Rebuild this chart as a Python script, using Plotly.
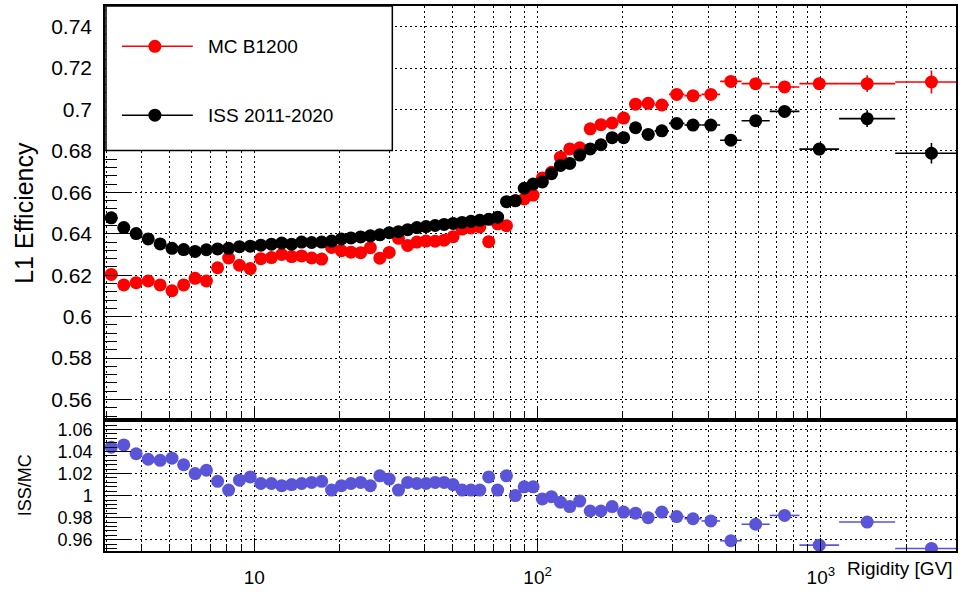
import numpy as np
import plotly.graph_objects as go

# ---- rigidity binning [GV] ----
bin_edges = [2.97, 3.29, 3.64, 4.02, 4.43, 4.88, 5.37, 5.90, 6.47, 7.09, 7.76, 8.48,
             9.26, 10.1, 11.0, 12.0, 13.0, 14.1, 15.3, 16.6, 18.0, 19.5, 21.1, 22.8,
             24.7, 26.7, 28.8, 31.1, 33.5, 36.1, 38.9, 41.9, 45.1, 48.5, 52.2, 56.1,
             60.3, 64.8, 69.7, 74.9, 80.5, 86.5, 93.0, 100, 108, 116, 125, 135, 147,
             160, 175, 192, 211, 233, 259, 291, 330, 379, 441, 525, 660, 840, 1160,
             1830, 3300]

# ---- L1 efficiency, MC B1200 ----
mc_eff = [0.6204, 0.6153, 0.6164, 0.6172, 0.6153, 0.6125, 0.6153, 0.6185, 0.6172, 0.6236,
          0.6283, 0.6248, 0.6232, 0.6280, 0.6285, 0.6300, 0.6290, 0.6293, 0.6283, 0.6278,
          0.6334, 0.6318, 0.6311, 0.6309, 0.6333, 0.6282, 0.6310, 0.6378, 0.6344, 0.6360,
          0.6365, 0.6364, 0.6369, 0.6386, 0.6423, 0.6428, 0.6433, 0.6362, 0.6448, 0.6439,
          0.6560, 0.6568, 0.6587, 0.6670, 0.6697, 0.6770, 0.6810, 0.6815, 0.6907, 0.6927,
          0.6935, 0.6959, 0.7026, 0.7030, 0.7022, 0.7073, 0.7067, 0.7073, 0.7136, 0.7125,
          0.7109, 0.7125, 0.7125, 0.7133]
mc_err = [0.0004, 0.0004, 0.0004, 0.0004, 0.0004, 0.0004, 0.0004, 0.0004, 0.0004, 0.0004,
          0.0004, 0.0004, 0.0004, 0.0004, 0.0004, 0.0004, 0.0004, 0.0004, 0.0004, 0.0004,
          0.0004, 0.0004, 0.0004, 0.0004, 0.0004, 0.0004, 0.0004, 0.0004, 0.0004, 0.0004,
          0.0005, 0.0005, 0.0005, 0.0005, 0.0005, 0.0005, 0.0005, 0.0005, 0.0005, 0.0005,
          0.0006, 0.0006, 0.0006, 0.0006, 0.0007, 0.0007, 0.0007, 0.0008, 0.0008, 0.0009,
          0.0009, 0.0010, 0.0010, 0.0011, 0.0012, 0.0013, 0.0014, 0.0015, 0.0017, 0.0020,
          0.0025, 0.0030, 0.0040, 0.0055]

# ---- L1 efficiency, ISS 2011-2020 ----
iss_eff = [0.6477, 0.6430, 0.6401, 0.6375, 0.6351, 0.6330, 0.6324, 0.6315, 0.6323, 0.6327,
           0.6330, 0.6338, 0.6340, 0.6345, 0.6350, 0.6355, 0.6350, 0.6360, 0.6358, 0.6360,
           0.6365, 0.6375, 0.6380, 0.6385, 0.6390, 0.6395, 0.6405, 0.6410, 0.6420, 0.6430,
           0.6435, 0.6440, 0.6445, 0.6450, 0.6455, 0.6460, 0.6465, 0.6470, 0.6480, 0.6555,
           0.6560, 0.6620, 0.6640, 0.6650, 0.6690, 0.6730, 0.6740, 0.6780, 0.6810, 0.6830,
           0.6864, 0.6864, 0.6912, 0.6880, 0.6897, 0.6933, 0.6925, 0.6925, 0.6852, 0.6946,
           0.6991, 0.6809, 0.6956, 0.6789]
iss_err = [0.0004, 0.0004, 0.0004, 0.0004, 0.0004, 0.0004, 0.0004, 0.0004, 0.0004, 0.0004,
           0.0004, 0.0004, 0.0004, 0.0004, 0.0004, 0.0004, 0.0004, 0.0004, 0.0004, 0.0004,
           0.0004, 0.0004, 0.0004, 0.0004, 0.0004, 0.0004, 0.0004, 0.0004, 0.0004, 0.0004,
           0.0005, 0.0005, 0.0005, 0.0005, 0.0005, 0.0005, 0.0005, 0.0005, 0.0005, 0.0005,
           0.0006, 0.0006, 0.0006, 0.0006, 0.0007, 0.0007, 0.0007, 0.0008, 0.0008, 0.0009,
           0.0009, 0.0010, 0.0010, 0.0011, 0.0012, 0.0013, 0.0014, 0.0015, 0.0017, 0.0020,
           0.0025, 0.0030, 0.0040, 0.0050]

# ---- ISS / MC ratio ----
ratio = [1.044, 1.046, 1.038, 1.033, 1.032, 1.034, 1.028, 1.020, 1.023, 1.013,
         1.005, 1.014, 1.017, 1.011, 1.011, 1.009, 1.010, 1.011, 1.012, 1.013,
         1.005, 1.009, 1.011, 1.012, 1.009, 1.018, 1.015, 1.005, 1.012, 1.011,
         1.011, 1.012, 1.012, 1.010, 1.005, 1.005, 1.005, 1.017, 1.005, 1.018,
         1.000, 1.008, 1.008, 0.997, 0.999, 0.994, 0.990, 0.995, 0.986, 0.986,
         0.990, 0.985, 0.984, 0.980, 0.985, 0.981, 0.979, 0.977, 0.959, 0.974,
         0.982, 0.955, 0.976, 0.952]

# ---- axis definitions ----
x_range = [2.97, 3000]
eff_range = [0.55, 0.75]
ratio_range = [0.9497, 1.0685]
eff_ticks = [0.56, 0.58, 0.60, 0.62, 0.64, 0.66, 0.68, 0.70, 0.72, 0.74]
eff_ticktext = ["0.56", "0.58", "0.6", "0.62", "0.64", "0.66", "0.68", "0.7", "0.72", "0.74"]
ratio_ticks = [0.96, 0.98, 1.00, 1.02, 1.04, 1.06]
ratio_ticktext = ["0.96", "0.98", "1", "1.02", "1.04", "1.06"]
x_major = [10, 100, 1000]
x_major_text = ["10", "10<sup>2</sup>", "10<sup>3</sup>"]

legend_labels = ["MC B1200", "ISS 2011-2020"]
legend_colors = ["#ff0000", "#000000"]

RED = "#ff0000"
BLACK = "#000000"
BLUE = "#5954d8"
FONT = "Liberation Sans, Arial, Helvetica, sans-serif"

edges = np.array(bin_edges)
lo, hi = edges[:-1], edges[1:]
centers = np.sqrt(lo * hi)
err_plus = hi - centers
err_minus = centers - lo

# minor x ticks: 2..9 times each decade inside the range
x_minor = [k * d for d in (1, 10, 100, 1000) for k in range(2, 10)
           if x_range[0] < k * d <= x_range[1] and k * d not in x_major]

# figure geometry (pixels)
W, H = 962, 592
ML, MR, MT, MB = 105, 4, 6, 32
split_px = 427
PW, PH = W - ML - MR, H - MT - MB
split = (H - MB - split_px) / PH


def px(xp):
    return (xp - ML) / PW


def py(yp):
    return (H - MB - yp) / PH


def ebar_x():
    return dict(type="data", symmetric=False, array=err_plus, arrayminus=err_minus,
                thickness=1.6, width=0)


fig = go.Figure()

fig.add_trace(go.Scatter(
    x=centers, y=mc_eff, mode="markers", name=legend_labels[0],
    marker=dict(color=RED, size=13, symbol="circle"),
    error_x=dict(ebar_x(), color=RED),
    error_y=dict(type="data", array=mc_err, color=RED, thickness=1.6, width=0),
    xaxis="x", yaxis="y", showlegend=False))

fig.add_trace(go.Scatter(
    x=centers, y=iss_eff, mode="markers", name=legend_labels[1],
    marker=dict(color=BLACK, size=13, symbol="circle"),
    error_x=dict(ebar_x(), color=BLACK),
    error_y=dict(type="data", array=iss_err, color=BLACK, thickness=1.6, width=0),
    xaxis="x", yaxis="y", showlegend=False))

fig.add_trace(go.Scatter(
    x=centers, y=ratio, mode="markers", name="ISS/MC",
    marker=dict(color=BLUE, size=13, symbol="circle"),
    error_x=dict(ebar_x(), color=BLUE),
    xaxis="x2", yaxis="y2", showlegend=False))

GRID_DASH = "2px,3px"
grid = dict(showgrid=True, gridcolor=BLACK, gridwidth=1.3, griddash=GRID_DASH)
frame = dict(showline=True, linecolor=BLACK, linewidth=1.5, mirror=True, zeroline=False)

xcommon = dict(type="log", range=[np.log10(x_range[0]), np.log10(x_range[1])],
               tickmode="array", tickvals=x_major, ticks="inside", ticklen=13,
               tickwidth=1.2, tickcolor=BLACK,
               minor=dict(tickmode="array", tickvals=x_minor, ticks="inside", ticklen=7,
                          tickwidth=1.2, tickcolor=BLACK, showgrid=True, gridcolor=BLACK,
                          gridwidth=1.3, griddash=GRID_DASH),
               **grid, **frame)

ycommon = dict(tickmode="array", ticks="inside", ticklen=26, tickwidth=1.2, tickcolor=BLACK,
               ticklabelstandoff=7, **grid, **frame)

fig.update_layout(
    width=W, height=H,
    margin=dict(l=ML, r=MR, t=MT, b=MB, pad=0),
    paper_bgcolor="white", plot_bgcolor="white",
    font=dict(family=FONT, color=BLACK),
    showlegend=False,
    xaxis=dict(xcommon, anchor="y", domain=[0, 1], showticklabels=False),
    yaxis=dict(ycommon, anchor="x", domain=[split, 1], range=eff_range,
               tickvals=eff_ticks, ticktext=eff_ticktext,
               tickfont=dict(size=21, color=BLACK, family=FONT),
               minor=dict(tick0=0.56, dtick=0.004, ticks="inside", ticklen=12,
                          tickwidth=1.2, tickcolor=BLACK, showgrid=False)),
    xaxis2=dict(xcommon, anchor="y2", domain=[0, 1], ticktext=x_major_text,
                tickfont=dict(size=19, color=BLACK, family=FONT), ticklabelstandoff=8),
    yaxis2=dict(ycommon, anchor="x2", domain=[0, split], range=ratio_range,
                tickvals=ratio_ticks, ticktext=ratio_ticktext,
                tickfont=dict(size=18, color=BLACK, family=FONT),
                minor=dict(tick0=0.96, dtick=0.004, ticks="inside", ticklen=12,
                           tickwidth=1.2, tickcolor=BLACK, showgrid=False)),
)

# ---- legend box drawn with shapes ----
shapes = [dict(type="rect", xref="paper", yref="paper",
               x0=px(106), x1=px(393), y0=py(153), y1=py(6),
               line=dict(color=BLACK, width=1.5), fillcolor="white", layer="above")]
annotations = []
for i, (lab, col) in enumerate(zip(legend_labels, legend_colors)):
    yy = [47, 117][i]
    shapes.append(dict(type="line", xref="paper", yref="paper",
                       x0=px(122), x1=px(193), y0=py(yy), y1=py(yy),
                       line=dict(color=col, width=1.5), layer="above"))
    shapes.append(dict(type="circle", xref="paper", yref="paper",
                       xsizemode="pixel", ysizemode="pixel",
                       xanchor=px(155), yanchor=py(yy),
                       x0=-6.5, x1=6.5, y0=-6.5, y1=6.5,
                       fillcolor=col, line=dict(color=col, width=0), layer="above"))
    annotations.append(dict(text=lab, xref="paper", yref="paper",
                            x=px(206), y=py(yy), xanchor="left", yanchor="middle",
                            showarrow=False, font=dict(size=19, color=BLACK, family=FONT)))

# ---- axis titles ----
annotations += [
    dict(text="L1 Efficiency", xref="paper", yref="paper", x=px(23), y=py(216),
         xanchor="center", yanchor="middle", textangle=-90, showarrow=False,
         font=dict(size=25, color=BLACK, family=FONT)),
    dict(text="ISS/MC", xref="paper", yref="paper", x=px(25), y=py(493),
         xanchor="center", yanchor="middle", textangle=-90, showarrow=False,
         font=dict(size=18, color=BLACK, family=FONT)),
    dict(text="Rigidity [GV]", xref="paper", yref="paper", x=px(957), y=py(578),
         xanchor="right", yanchor="middle", showarrow=False,
         font=dict(size=19, color=BLACK, family=FONT)),
]

fig.update_layout(shapes=shapes, annotations=annotations)
fig.write_html("out.html")
